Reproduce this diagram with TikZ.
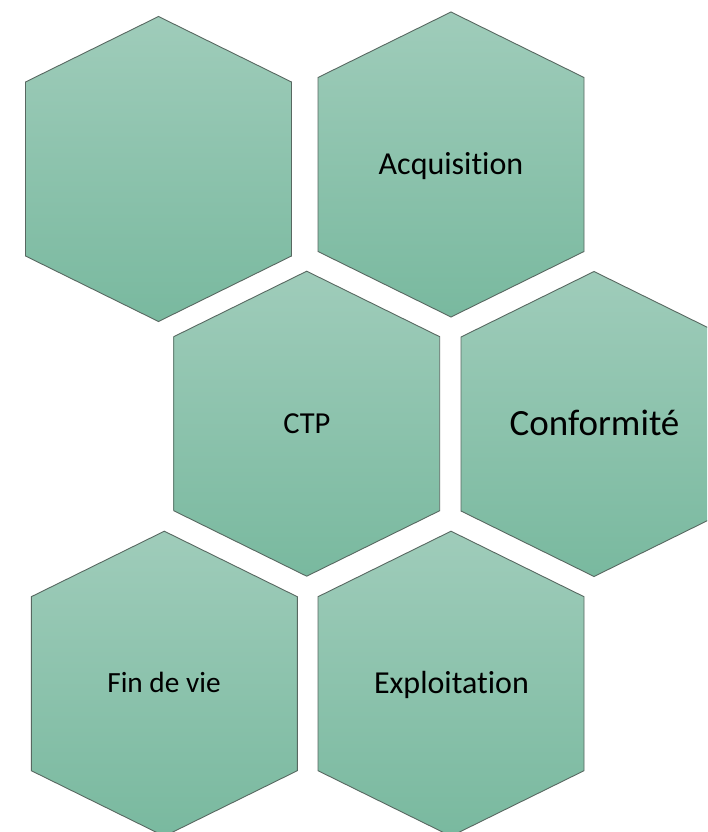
\documentclass[tikz,border=0pt]{standalone}
\usepackage{fontspec}
\setmainfont{Carlito}[Ligatures=NoCommon]
\definecolor{hextop}{RGB}{159,204,186}
\definecolor{hexbot}{RGB}{121,185,159}
\definecolor{hexedge}{RGB}{88,104,97}
\tikzset{
  hexcell/.style={draw=hexedge, line width=0.9pt, top color=hextop, bottom color=hexbot, line join=miter},
  hexlabel/.style={inner sep=0pt, text=black, font=\fontsize{30.5}{36}\selectfont}
}
\newcommand{\drawhexcell}[2]{%
  \begin{scope}[shift={(#1,#2)}]
    \path[hexcell] (0,-152.5) -- (133,-87) -- (133,87) -- (0,152.5) -- (-133,87) -- (-133,-87) -- cycle;
  \end{scope}}
\begin{document}
\begin{tikzpicture}[x=1pt,y=-1pt]
\useasboundingbox (0,0) rectangle (707,832);
\fill[white] (0,0) rectangle (707,832);
\begin{scope}
\clip (0,0) rectangle (707,832);
\drawhexcell{158.5}{169}
\drawhexcell{451}{164.5}
\drawhexcell{306.7}{423.7}
\drawhexcell{594}{424}
\drawhexcell{164.3}{683.7}
\drawhexcell{451}{683.7}
\end{scope}
\node[hexlabel, anchor=base, font=\fontsize{32}{38}\selectfont] (acq) at (451,174) {Acquisition};
\node[hexlabel, anchor=base] (ctp) at (307,433.3) {CTP};
\node[hexlabel, anchor=base, font=\fontsize{37}{44}\selectfont] (conf) at (594.5,435.7) {Conformité};
\node[hexlabel, anchor=base, font=\fontsize{29.3}{35}\selectfont] (fin) at (164,692.3) {Fin de vie};
\node[hexlabel, anchor=base, font=\fontsize{32}{38}\selectfont] (expl) at (451.5,693.3) {Exploitation};
\end{tikzpicture}
\end{document}
